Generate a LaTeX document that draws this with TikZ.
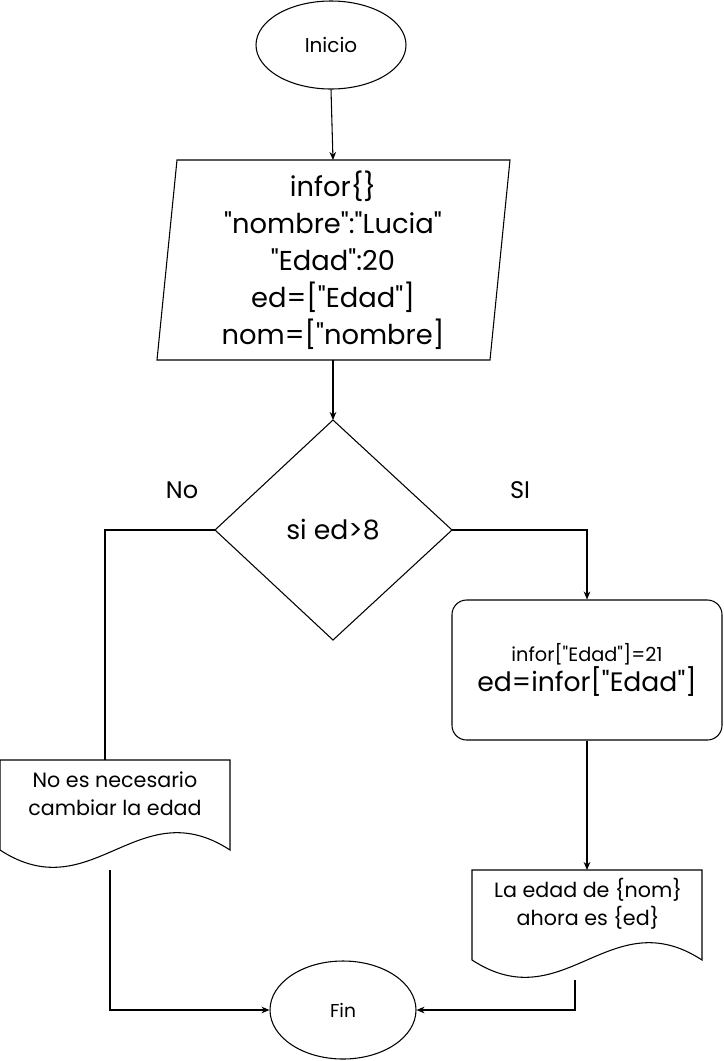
\documentclass[tikz,border=0pt]{standalone}
\usepackage{fontspec}
\setmainfont{Poppins}[Ligatures=TeXOff]
\usetikzlibrary{arrows.meta,shapes.geometric}
\begin{document}
\begin{tikzpicture}[x=0.75pt,y=-0.75pt,
  shp/.style={draw=black,line width=0.8pt},
  conn/.style={draw=black,line width=0.8pt},
  arr/.style={conn,-{Stealth[length=6pt,width=5pt]}},
  txt/.style={align=center,inner sep=0pt,font=\fontsize{15.5}{21}\selectfont}]
\useasboundingbox[fill=white] (0,0) rectangle (724,1061);
% Inicio
\node[shp,ellipse,minimum width=112.5pt,minimum height=66pt,font=\fontsize{15}{18}\selectfont] (ini) at (331,45) {Inicio};
% parallelogram
\coordinate (pTop) at (333,160);
\coordinate (pBot) at (333,360);
\draw[shp] (177,160) -- (510,160) -- (490,360) -- (157,360) -- cycle;
\node[txt,font=\fontsize{20.5}{27.75}\selectfont] (par) at (333,260) {infor\{\}\\"nombre":"Lucia"\\"Edad":20\\ed=["Edad"]\\nom=["nombre]};
% diamond
\coordinate (dT) at (333,420);
\coordinate (dL) at (215,530);
\coordinate (dR) at (452,530);
\coordinate (dB) at (333,640);
\draw[shp] (dT) -- (dR) -- (dB) -- (dL) -- cycle;
\node[txt,font=\fontsize{20}{24}\selectfont] (dia) at (333,530) {si ed>8};
\node[txt,font=\fontsize{18}{22}\selectfont] (lno) at (182,490) {No};
\node[txt,font=\fontsize{18}{22}\selectfont] (lsi) at (520,490) {SI};
% rounded rect
\node[shp,rounded corners=11pt,minimum width=202.5pt,minimum height=105pt,align=center,inner sep=0pt] (rr) at (587,670)
  {{\fontsize{14.5}{22}\selectfont infor["Edad"]=21}\\{\fontsize{20}{24}\selectfont ed=infor["Edad"]}};
% left document
\coordinate (docLtop) at (105,760);
\coordinate (docLbot) at (110,870);
\draw[shp] (0,760) -- (230,760) -- (230,850) .. controls (138,790) and (92,910) .. (0,850) -- cycle;
\node[txt] (docL) at (115,794) {No es necesario\\cambiar la edad};
% right document
\coordinate (docRtop) at (587,870);
\coordinate (docRbot) at (575,980);
\draw[shp] (472,870) -- (702,870) -- (702,960) .. controls (610,900) and (564,1020) .. (472,960) -- cycle;
\node[txt] (docR) at (588,904) {La edad de \{nom\}\\ahora es \{ed\}};
% Fin
\node[shp,ellipse,minimum width=109.5pt,minimum height=73.5pt,font=\fontsize{14}{18}\selectfont] (fin) at (343,1010) {Fin};
% connectors
\draw[arr] (ini.south) -- (pTop);
\draw[arr] (pBot) -- (dT);
\draw[conn] (dL) -| (docLtop);
\draw[arr] (dR) -| (rr.north);
\draw[arr] (rr.south) -- (docRtop);
\draw[arr] (docLbot) |- (fin.west);
\draw[arr] (docRbot) |- (fin.east);
\end{tikzpicture}
\end{document}
